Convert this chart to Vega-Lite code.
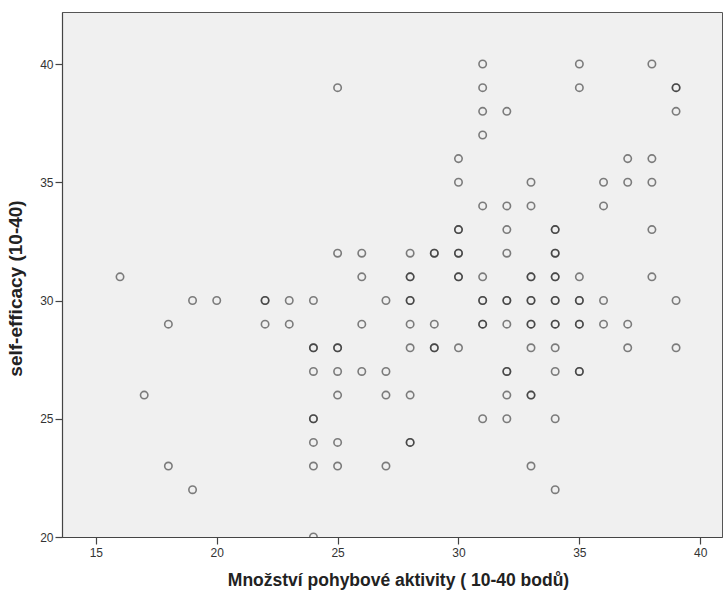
{
  "$schema": "https://vega.github.io/schema/vega-lite/v6.json",
  "autosize": "none",
  "width": 660,
  "height": 525,
  "padding": {"left": 62, "top": 12, "right": 2, "bottom": 53},
  "background": "white",
  "config": {
    "view": {"fill": "#f0f0f0", "stroke": "#555555", "strokeWidth": 1},
    "font": "Liberation Sans"
  },
  "data": {
    "values": [
      {"activity": 16, "efficacy": 31}, {"activity": 17, "efficacy": 26}, {"activity": 18, "efficacy": 29}, {"activity": 18, "efficacy": 23},
      {"activity": 19, "efficacy": 30}, {"activity": 19, "efficacy": 22}, {"activity": 20, "efficacy": 30},
      {"activity": 22, "efficacy": 30}, {"activity": 22, "efficacy": 30}, {"activity": 22, "efficacy": 29},
      {"activity": 23, "efficacy": 30}, {"activity": 23, "efficacy": 29},
      {"activity": 24, "efficacy": 30}, {"activity": 24, "efficacy": 28}, {"activity": 24, "efficacy": 28}, {"activity": 24, "efficacy": 27},
      {"activity": 24, "efficacy": 25}, {"activity": 24, "efficacy": 25}, {"activity": 24, "efficacy": 24}, {"activity": 24, "efficacy": 23}, {"activity": 24, "efficacy": 20},
      {"activity": 25, "efficacy": 39}, {"activity": 25, "efficacy": 32}, {"activity": 25, "efficacy": 28}, {"activity": 25, "efficacy": 28},
      {"activity": 25, "efficacy": 27}, {"activity": 25, "efficacy": 26}, {"activity": 25, "efficacy": 24}, {"activity": 25, "efficacy": 23},
      {"activity": 26, "efficacy": 32}, {"activity": 26, "efficacy": 31}, {"activity": 26, "efficacy": 29}, {"activity": 26, "efficacy": 27},
      {"activity": 27, "efficacy": 30}, {"activity": 27, "efficacy": 27}, {"activity": 27, "efficacy": 26}, {"activity": 27, "efficacy": 23},
      {"activity": 28, "efficacy": 32}, {"activity": 28, "efficacy": 31}, {"activity": 28, "efficacy": 31}, {"activity": 28, "efficacy": 30}, {"activity": 28, "efficacy": 30},
      {"activity": 28, "efficacy": 29}, {"activity": 28, "efficacy": 28}, {"activity": 28, "efficacy": 26}, {"activity": 28, "efficacy": 24}, {"activity": 28, "efficacy": 24},
      {"activity": 29, "efficacy": 32}, {"activity": 29, "efficacy": 32}, {"activity": 29, "efficacy": 29}, {"activity": 29, "efficacy": 28}, {"activity": 29, "efficacy": 28},
      {"activity": 30, "efficacy": 36}, {"activity": 30, "efficacy": 35}, {"activity": 30, "efficacy": 33}, {"activity": 30, "efficacy": 33},
      {"activity": 30, "efficacy": 32}, {"activity": 30, "efficacy": 32}, {"activity": 30, "efficacy": 31}, {"activity": 30, "efficacy": 31}, {"activity": 30, "efficacy": 28},
      {"activity": 31, "efficacy": 40}, {"activity": 31, "efficacy": 39}, {"activity": 31, "efficacy": 38}, {"activity": 31, "efficacy": 37}, {"activity": 31, "efficacy": 34},
      {"activity": 31, "efficacy": 31}, {"activity": 31, "efficacy": 30}, {"activity": 31, "efficacy": 30}, {"activity": 31, "efficacy": 29}, {"activity": 31, "efficacy": 29}, {"activity": 31, "efficacy": 25},
      {"activity": 32, "efficacy": 38}, {"activity": 32, "efficacy": 34}, {"activity": 32, "efficacy": 33}, {"activity": 32, "efficacy": 32},
      {"activity": 32, "efficacy": 30}, {"activity": 32, "efficacy": 30}, {"activity": 32, "efficacy": 29}, {"activity": 32, "efficacy": 27}, {"activity": 32, "efficacy": 27},
      {"activity": 32, "efficacy": 26}, {"activity": 32, "efficacy": 25},
      {"activity": 33, "efficacy": 35}, {"activity": 33, "efficacy": 34}, {"activity": 33, "efficacy": 31}, {"activity": 33, "efficacy": 31},
      {"activity": 33, "efficacy": 30}, {"activity": 33, "efficacy": 30}, {"activity": 33, "efficacy": 29}, {"activity": 33, "efficacy": 29},
      {"activity": 33, "efficacy": 28}, {"activity": 33, "efficacy": 26}, {"activity": 33, "efficacy": 26}, {"activity": 33, "efficacy": 23},
      {"activity": 34, "efficacy": 33}, {"activity": 34, "efficacy": 33}, {"activity": 34, "efficacy": 32}, {"activity": 34, "efficacy": 32},
      {"activity": 34, "efficacy": 31}, {"activity": 34, "efficacy": 31}, {"activity": 34, "efficacy": 30}, {"activity": 34, "efficacy": 30},
      {"activity": 34, "efficacy": 29}, {"activity": 34, "efficacy": 29}, {"activity": 34, "efficacy": 28}, {"activity": 34, "efficacy": 27},
      {"activity": 34, "efficacy": 25}, {"activity": 34, "efficacy": 22},
      {"activity": 35, "efficacy": 40}, {"activity": 35, "efficacy": 39}, {"activity": 35, "efficacy": 31}, {"activity": 35, "efficacy": 30}, {"activity": 35, "efficacy": 30},
      {"activity": 35, "efficacy": 29}, {"activity": 35, "efficacy": 29}, {"activity": 35, "efficacy": 27}, {"activity": 35, "efficacy": 27},
      {"activity": 36, "efficacy": 35}, {"activity": 36, "efficacy": 34}, {"activity": 36, "efficacy": 30}, {"activity": 36, "efficacy": 29},
      {"activity": 37, "efficacy": 36}, {"activity": 37, "efficacy": 35}, {"activity": 37, "efficacy": 29}, {"activity": 37, "efficacy": 28},
      {"activity": 38, "efficacy": 40}, {"activity": 38, "efficacy": 36}, {"activity": 38, "efficacy": 35}, {"activity": 38, "efficacy": 33}, {"activity": 38, "efficacy": 31},
      {"activity": 39, "efficacy": 39}, {"activity": 39, "efficacy": 39}, {"activity": 39, "efficacy": 38}, {"activity": 39, "efficacy": 30}, {"activity": 39, "efficacy": 28}
    ]
  },
  "mark": {"type": "point", "shape": "circle", "filled": false, "stroke": "#222222", "strokeOpacity": 0.8, "strokeWidth": 1.6, "size": 55, "clip": true},
  "encoding": {
    "x": {
      "field": "activity", "type": "quantitative",
      "scale": {"domain": [13.6, 40.9], "nice": false, "zero": false},
      "axis": {
        "title": "Množství pohybové aktivity ( 10-40 bodů)",
        "values": [15, 20, 25, 30, 35, 40],
        "grid": false, "domainColor": "#444444", "domainWidth": 1.2,
        "tickColor": "#444444", "tickSize": 7, "tickWidth": 1.2,
        "labelFont": "Liberation Sans", "labelFontSize": 12, "labelColor": "#333333", "labelPadding": 3,
        "titleFont": "Liberation Sans", "titleFontSize": 17.5, "titleFontWeight": "bold", "titleColor": "#222222",
        "titleX": 336, "titleY": 48, "titleBaseline": "alphabetic", "titleAlign": "center"
      }
    },
    "y": {
      "field": "efficacy", "type": "quantitative",
      "scale": {"domain": [20, 42.2], "nice": false, "zero": false},
      "axis": {
        "title": "self-efficacy (10-40)",
        "values": [20, 25, 30, 35, 40],
        "grid": false, "domainColor": "#444444", "domainWidth": 1.2,
        "tickColor": "#444444", "tickSize": 7, "tickWidth": 1.2,
        "labelFont": "Liberation Sans", "labelFontSize": 12, "labelColor": "#333333", "labelPadding": 2,
        "titleFont": "Liberation Sans", "titleFontSize": 19, "titleFontWeight": "bold", "titleColor": "#222222",
        "titleX": -41, "titleY": 276, "titleBaseline": "alphabetic", "titleAlign": "center", "titleAngle": -90
      }
    }
  }
}
